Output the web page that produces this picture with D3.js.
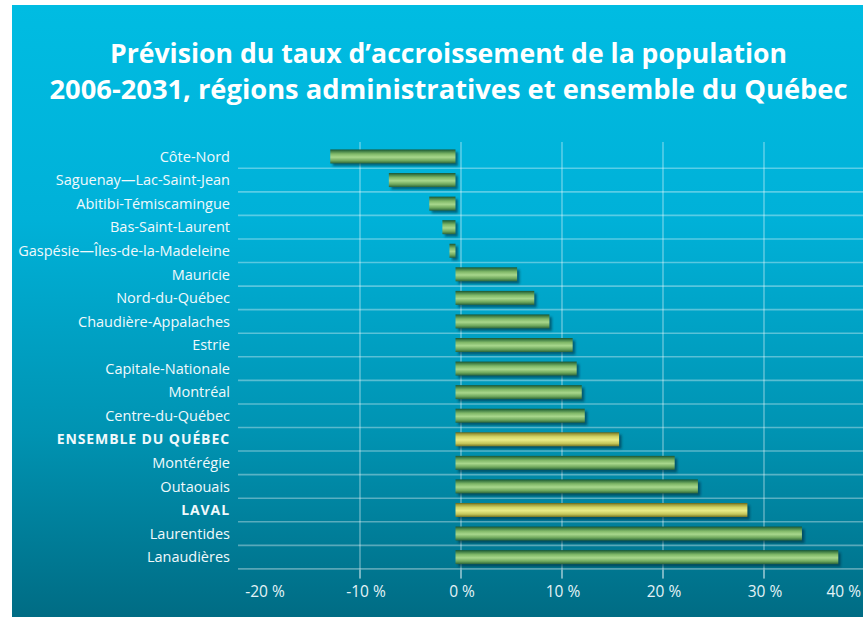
<!DOCTYPE html>
<html><head><meta charset="utf-8">
<script src="https://cdn.jsdelivr.net/npm/d3@7"></script>
<style>body{margin:0;background:#fff;}svg{display:block;}</style>
</head><body>
<script>
const categories = ["Côte-Nord","Saguenay—Lac-Saint-Jean","Abitibi-Témiscamingue","Bas-Saint-Laurent","Gaspésie—Îles-de-la-Madeleine","Mauricie","Nord-du-Québec","Chaudière-Appalaches","Estrie","Capitale-Nationale","Montréal","Centre-du-Québec","ENSEMBLE DU QUÉBEC","Montérégie","Outaouais","LAVAL","Laurentides","Lanaudières"];
const values = [-12.4,-6.6,-2.6,-1.3,-0.6,6.1,7.8,9.3,11.6,12.0,12.5,12.8,16.2,21.7,24.0,28.9,34.3,37.9];
const highlighted = ["ENSEMBLE DU QUÉBEC","LAVAL"];
const tickValues = [-20,-10,0,10,20,30,40];
const gridValues = [-10,0,10,20,30];
const titleLines = ["Prévision du taux d’accroissement de la population","2006-2031, régions administratives et ensemble du Québec"];

const W=863,H=617;
const svg=d3.select("body").append("svg").attr("width",W).attr("height",H);
const defs=svg.append("defs");
const bg=defs.append("linearGradient").attr("id","bg").attr("x1",0).attr("y1",0).attr("x2",0).attr("y2",1);
[[0,"#00bce2"],[0.35,"#00b1d8"],[0.7,"#0093b2"],[1,"#006c84"]].forEach(s=>bg.append("stop").attr("offset",s[0]).attr("stop-color",s[1]));
const gG=defs.append("linearGradient").attr("id","gG").attr("x1",0).attr("y1",0).attr("x2",0).attr("y2",1);
[[0,"#1a5433"],[0.12,"#3f7d45"],[0.32,"#80b868"],[0.55,"#a8d78c"],[0.8,"#6ea75c"],[1,"#2a633a"]].forEach(s=>gG.append("stop").attr("offset",s[0]).attr("stop-color",s[1]));
const gY=defs.append("linearGradient").attr("id","gY").attr("x1",0).attr("y1",0).attr("x2",0).attr("y2",1);
[[0,"#66651a"],[0.12,"#9e9c3a"],[0.32,"#d3d568"],[0.55,"#e9eb86"],[0.8,"#c4c65a"],[1,"#767422"]].forEach(s=>gY.append("stop").attr("offset",s[0]).attr("stop-color",s[1]));
const blur=defs.append("filter").attr("id","sh").attr("x","-10%").attr("y","-50%").attr("width","120%").attr("height","200%");
blur.append("feGaussianBlur").attr("stdDeviation",1.2);

svg.append("rect").attr("x",12).attr("y",5).attr("width",W-12).attr("height",H-5).attr("fill","url(#bg)");

// title
svg.append("g").selectAll("text").data(titleLines).join("text")
  .attr("x",448.5).attr("y",(d,i)=>63+i*35.5).attr("text-anchor","middle")
  .attr("fill","#fff").attr("font-family","'Open Sans',sans-serif").attr("font-weight","bold")
  .attr("font-size",26).attr("textLength",(d,i)=>i===0?677:798).attr("lengthAdjust","spacingAndGlyphs")
  .text(d=>d);

// scales: gridline scale and bar scale (bars drawn with a small offset as in the original)
const x=d3.scaleLinear().domain([-20,40]).range([259,865]);
const barShift=-5.5;
const y=d3.scaleBand().domain(categories).range([144.7,568.9]).paddingInner(0).paddingOuter(0);
const barH=14;

// horizontal gridlines below each row
svg.append("g").selectAll("line").data(categories).join("line")
  .attr("x1",238).attr("x2",W).attr("y1",d=>y(d)+y.bandwidth()).attr("y2",d=>y(d)+y.bandwidth())
  .attr("stroke","rgba(255,255,255,0.35)").attr("stroke-width",1.6);
// vertical gridlines
svg.append("g").selectAll("line").data(gridValues).join("line")
  .attr("x1",d=>x(d)).attr("x2",d=>x(d)).attr("y1",142).attr("y2",578)
  .attr("stroke","rgba(255,255,255,0.35)").attr("stroke-width",1.6);

// bars
const bars=svg.append("g");
const data=categories.map((c,i)=>({c,v:values[i]}));
bars.selectAll("rect.sh").data(data).join("rect").attr("class","sh")
  .attr("x",d=>Math.min(x(0),x(d.v))+barShift+2.5).attr("y",d=>y(d.c)+y.bandwidth()/2-barH/2+2.5)
  .attr("width",d=>Math.abs(x(d.v)-x(0))).attr("height",barH)
  .attr("fill","rgba(0,40,60,0.55)").attr("filter","url(#sh)");
bars.selectAll("rect.b").data(data).join("rect").attr("class","b")
  .attr("x",d=>Math.min(x(0),x(d.v))+barShift).attr("y",d=>y(d.c)+y.bandwidth()/2-barH/2)
  .attr("width",d=>Math.abs(x(d.v)-x(0))).attr("height",barH)
  .attr("fill",d=>highlighted.includes(d.c)?"url(#gY)":"url(#gG)");

// category labels
svg.append("g").selectAll("text").data(categories).join("text")
  .attr("x",230).attr("y",d=>y(d)+y.bandwidth()/2).attr("dy","0.36em").attr("text-anchor","end")
  .attr("fill","#f0f9fc").attr("font-family","'Open Sans',sans-serif")
  .attr("font-size",d=>highlighted.includes(d)?14:14.5)
  .attr("font-weight",d=>highlighted.includes(d)?"bold":"normal")
  .attr("letter-spacing",d=>highlighted.includes(d)?0.9:0)
  .text(d=>d);

// x axis tick marks and labels
svg.append("g").selectAll("line").data(gridValues).join("line")
  .attr("x1",d=>x(d)).attr("x2",d=>x(d)).attr("y1",570).attr("y2",579)
  .attr("stroke","rgba(255,255,255,0.45)").attr("stroke-width",1.2);
svg.append("g").selectAll("text").data(tickValues).join("text")
  .attr("x",d=>d===40?861:x(d)+(d<0?6:1)).attr("y",597)
  .attr("text-anchor",d=>d===40?"end":"middle")
  .attr("fill","#e4f3f7").attr("font-family","'Open Sans',sans-serif").attr("font-size",15.5)
  .text(d=>d+" %");
</script>
</body></html>
